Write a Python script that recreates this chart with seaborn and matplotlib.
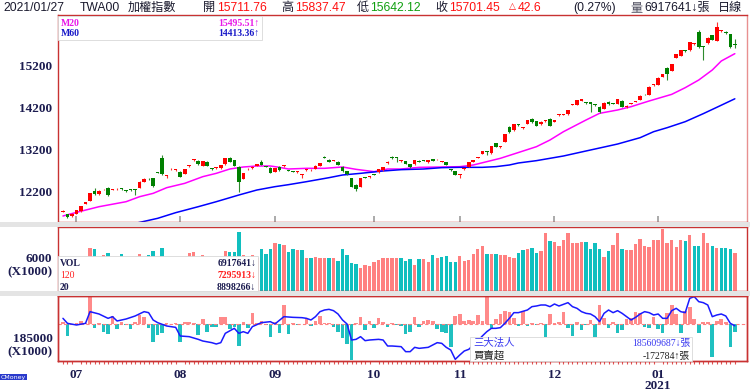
import numpy as np
import pandas as pd
import matplotlib
matplotlib.use("Agg")
import matplotlib.pyplot as plt
import matplotlib.transforms as mtrans
from matplotlib.patches import Rectangle
import seaborn as sns

# ---- daily candles, 2020/06/24 .. 2021/01/27 (150 trading days) ----
opens = [11700, 11650, 11600, 11650, 11720, 11890, 11970, 12210, 12120, 12240,
         12280, 12230, 12240, 12255, 12215, 12230, 12230, 12280, 12430, 12500,
         12505, 12655, 12985, 12555, 12720, 12700, 12665, 12610, 12790, 12940,
         12920, 12810, 12905, 12735, 12755, 12745, 12840, 13000, 12940, 12785,
         12490, 12720, 12745, 12800, 12905, 12790, 12765, 12665, 12785, 12800,
         12695, 12670, 12660, 12595, 12700, 12695, 12730, 12810, 13015, 12955,
         12925, 12905, 12785, 12680, 12505, 12345, 12305, 12525, 12540, 12605,
         12650, 12700, 12870, 13005, 13000, 12915, 12920, 12840, 12840, 12930,
         12930, 12890, 12970, 12960, 12900, 12890, 12710, 12680, 12595, 12725,
         12785, 12900, 12995, 13095, 13150, 13105, 13355, 13260, 13385, 13745,
         13655, 13790, 13720, 13820, 13930, 13880, 13800, 13875, 13930, 13865,
         14020, 14035, 14045, 14275, 14265, 14370, 14310, 14330, 14270, 14225,
         14170, 14345, 14300, 14295, 14370, 14210, 14290, 14340, 14385, 14525,
         14505, 14740, 14745, 14945, 15160, 15080, 15400, 15450, 15565, 15575,
         15725, 16010, 15670, 15745, 15945, 15800, 16035, 16025, 15960, 15711.76]
highs = [11740, 11660, 11665, 11755, 11850, 11940, 12150, 12265, 12215, 12260,
         12290, 12260, 12270, 12275, 12230, 12240, 12245, 12435, 12505, 12515,
         12515, 12665, 13065, 12580, 12760, 12730, 12680, 12740, 12835, 12980,
         12935, 12930, 12920, 12750, 12780, 12835, 12995, 13010, 12950, 12800,
         12645, 12745, 12795, 12850, 12935, 12805, 12775, 12755, 12795, 12820,
         12710, 12690, 12690, 12605, 12725, 12720, 12820, 12885, 13035, 12965,
         12950, 12920, 12795, 12690, 12515, 12360, 12515, 12540, 12560, 12615,
         12730, 12785, 12915, 13030, 13025, 12940, 12930, 12850, 12945, 12940,
         12945, 12955, 12980, 12975, 12925, 12900, 12725, 12690, 12605, 12750,
         12900, 12950, 13020, 13170, 13165, 13290, 13365, 13285, 13570, 13755,
         13810, 13810, 13745, 13910, 13945, 13890, 13875, 13895, 13945, 13915,
         14050, 14060, 14155, 14300, 14395, 14420, 14325, 14340, 14285, 14235,
         14330, 14355, 14315, 14410, 14380, 14260, 14315, 14360, 14500, 14540,
         14715, 14765, 14930, 15010, 15170, 15250, 15490, 15585, 15580, 15780,
         15745, 16060, 15690, 15890, 15955, 16250, 16060, 16035, 15975, 15837.47]
lows = [11690, 11560, 11590, 11640, 11710, 11880, 11960, 12100, 12110, 12225,
        12080, 12215, 12225, 12230, 12190, 12205, 12105, 12270, 12420, 12465,
        12310, 12630, 12580, 12520, 12700, 12690, 12530, 12600, 12780, 12920,
        12830, 12800, 12800, 12710, 12740, 12735, 12830, 12890, 12800, 12185,
        12480, 12705, 12735, 12790, 12815, 12770, 12625, 12655, 12690, 12785,
        12675, 12650, 12645, 12505, 12690, 12680, 12720, 12800, 12995, 12895,
        12910, 12815, 12670, 12590, 12295, 12210, 12295, 12505, 12525, 12585,
        12640, 12690, 12860, 12980, 12905, 12900, 12845, 12765, 12830, 12895,
        12910, 12880, 12920, 12945, 12890, 12815, 12690, 12575, 12520, 12715,
        12775, 12890, 12985, 13085, 13065, 13095, 13250, 13245, 13375, 13600,
        13645, 13770, 13700, 13810, 13840, 13760, 13790, 13865, 13750, 13855,
        14005, 14015, 14035, 14260, 14255, 14360, 14290, 14105, 14250, 14080,
        14160, 14270, 14280, 14285, 14205, 14200, 14280, 14325, 14375, 14505,
        14495, 14725, 14735, 14935, 14865, 15070, 15390, 15440, 15545, 15565,
        15710, 15640, 15345, 15735, 15815, 15790, 16020, 15975, 15640, 15642.12]
closes = [11710, 11577, 11650, 11745, 11840, 11930, 12145, 12120, 12200, 12245,
          12105, 12240, 12250, 12245, 12205, 12220, 12220, 12425, 12495, 12480,
          12330, 12645, 12600, 12565, 12735, 12710, 12545, 12730, 12825, 12950,
          12840, 12920, 12810, 12725, 12765, 12825, 12985, 12905, 12810, 12410,
          12635, 12730, 12785, 12840, 12825, 12785, 12635, 12745, 12700, 12805,
          12690, 12665, 12670, 12600, 12710, 12705, 12810, 12875, 13005, 12905,
          12935, 12825, 12680, 12600, 12305, 12250, 12505, 12520, 12545, 12595,
          12720, 12775, 12905, 12995, 12995, 12925, 12855, 12775, 12935, 12905,
          12925, 12945, 12930, 12965, 12910, 12825, 12700, 12585, 12600, 12735,
          12890, 12940, 13005, 13160, 13140, 13280, 13260, 13270, 13560, 13610,
          13800, 13780, 13730, 13900, 13850, 13770, 13865, 13880, 13760, 13905,
          14030, 14045, 14145, 14285, 14385, 14410, 14305, 14280, 14265, 14090,
          14320, 14280, 14295, 14400, 14215, 14250, 14300, 14345, 14490, 14520,
          14705, 14745, 14920, 15000, 15000, 15240, 15480, 15575, 15560, 15770,
          15730, 15650, 15665, 15880, 15825, 16145, 16045, 15985, 15659, 15701.45]

# moving averages (day index, value)
ma20_idx = [0, 3, 8, 14, 17, 20, 23, 27, 31, 34, 37, 40, 43, 46, 48, 50, 54, 58, 62, 65, 69,
            72, 75, 79, 84, 88, 91, 94, 97, 101, 105, 108, 111, 116, 119, 123, 126, 130, 135,
            138, 141, 144, 146, 149]
ma20_val = [11603, 11690, 11826, 11946, 12066, 12146, 12282, 12386, 12546, 12626, 12730,
            12778, 12802, 12802, 12770, 12730, 12746, 12746, 12778, 12722, 12666, 12730,
            12730, 12770, 12778, 12786, 12826, 12906, 12986, 13125, 13265, 13425, 13625,
            13905, 14065, 14145, 14225, 14361, 14520, 14680, 14864, 15104, 15320, 15495.51]
ma60_idx = [12, 17, 21, 25, 30, 34, 39, 43, 47, 50, 54, 59, 62, 66, 71, 75, 80, 84, 88, 93,
            96, 99, 101, 105, 111, 116, 120, 123, 128, 131, 134, 138, 142, 145, 149]
ma60_val = [11325, 11450, 11547, 11683, 11826, 11946, 12106, 12226, 12306, 12354, 12426,
            12522, 12586, 12626, 12682, 12714, 12730, 12762, 12770, 12770, 12786, 12826,
            12874, 12930, 13042, 13162, 13257, 13329, 13481, 13625, 13721, 13865, 14057,
            14209, 14413.36]

# volume (x1000 張)
volume = [5200, 5400, 4800, 5100, 5600, 5900, 7854, 7616, 6000, 6545,
          6962, 5800, 5500, 6724, 5300, 5200, 5700, 6724, 6100, 6545,
          7319, 6000, 7735, 6100, 5600, 5200, 5700, 5800, 6902, 7140,
          6000, 6545, 5900, 5400, 5300, 5800, 7319, 7021, 7140, 10710,
          6545, 5800, 6545, 5900, 7557, 6664, 7557, 8747, 8509, 8330,
          7021, 7557, 7497, 7497, 5950, 5950, 6248, 5950, 5950, 5950,
          5950, 5474, 7616, 6545, 4998, 4939, 4165, 4760, 4582, 5236,
          5653, 5950, 5950, 6069, 6069, 6069, 5474, 5831, 4701, 5712,
          5712, 5236, 6545, 6069, 6129, 6426, 5236, 5236, 6426, 5474,
          5653, 6724, 7616, 8092, 6724, 6664, 6664, 6545, 6545, 6188,
          6069, 6902, 7438, 7616, 7735, 6843, 7259, 10472, 9104, 8806,
          8211, 9223, 10472, 8628, 8628, 8806, 8806, 7616, 8628, 7616,
          6129, 7259, 8390, 10591, 7616, 7438, 7438, 8449, 9342, 8211,
          8033, 9223, 9163, 11305, 8628, 9223, 8033, 9223, 9044, 10234,
          8211, 8211, 10532, 8628, 8152, 7854, 7735, 7735, 7700, 6917.641]

# 三大法人 daily net buy/sell (x1000 張)
inst_net = [40, -252, -10, 20, 65, 30, 576, -94, 20, -166,
            -216, 173, -115, 50, -20, -115, 36, 194, 144, -94,
            -396, -238, -187, 15, 10, 20, -396, 36, 50, 15,
            -238, 101, -180, -72, -58, 144, 158, -115, -72, -468,
            36, -94, 245, 15, 72, -30, -274, 36, -187, 410,
            -216, 15, -20, 10, 100, -43, 60, 173, 30, 20,
            -72, -166, -310, -432, -778, 20, 144, -130, 72, -94,
            137, 36, -58, 15, -30, -40, -223, -166, 158, -72,
            65, 86, 72, -115, -166, -202, -490, 173, 216, 72,
            86, 72, 194, 72, 590, -94, 100, 216, 281, 266,
            122, -43, 281, -36, 20, -20, 30, -274, 216, 20,
            40, 266, -94, -259, 50, -130, -20, 86, -274, 410,
            122, -94, 50, -202, -130, 100, 122, 266, 230, -72,
            -94, 158, -115, -202, 230, 410, 216, -202, 288, 374,
            100, -202, 50, 50, -706, 72, 100, 40, -504, -172.784]

# 三大法人 cumulative line (day index, x1000 張)
cum_idx = [0, 1, 3, 5, 6, 8, 10, 11, 12, 14, 16, 18, 19, 20, 21, 23, 25, 26, 28, 30, 31,
           33, 34, 35, 36, 38, 39, 40, 41, 42, 44, 46, 47, 49, 51, 53, 54, 55, 56, 57, 58,
           59, 60, 61, 62, 63, 64, 65, 66, 67, 68, 70, 71, 72, 73, 75, 76, 77, 78, 79, 81,
           82, 83, 84, 85, 86, 87, 88, 89, 90, 91, 92, 93, 94, 95, 96, 97, 98, 99, 100, 101,
           103, 104, 105, 106, 107, 108, 109, 110, 112, 113, 114, 115, 116, 117, 118, 119,
           120, 121, 122, 123, 124, 125, 126, 127, 128, 129, 130, 131, 132, 133, 134, 135,
           136, 137, 138, 139, 140, 141, 142, 143, 144, 145, 146, 147, 148, 149]
cum_val = [185983, 185733, 185650, 185733, 186317, 186200, 185983, 186067, 185850, 185950,
           186100, 186317, 186267, 185900, 185767, 185600, 185533, 185100, 185067, 184933,
           184850, 184767, 184700, 184767, 185233, 185483, 185233, 185317, 185233, 185567,
           185767, 185817, 185700, 186067, 186033, 186017, 185983, 185900, 186067, 186317,
           186400, 186433, 186367, 186200, 185900, 185700, 184900, 184933, 185067, 184867,
           184900, 184933, 184900, 184600, 184600, 184567, 184317, 184317, 184533, 184483,
           184533, 184650, 184767, 184733, 184533, 184400, 183933, 184150, 184350, 184433,
           184650, 184850, 185100, 185317, 185483, 185483, 185517, 185733, 185983, 186267,
           186267, 186400, 186567, 186600, 186650, 186650, 186567, 186700, 186600, 186767,
           186567, 186483, 186317, 186233, 186200, 186067, 185817, 186233, 186400, 186267,
           186367, 186233, 186067, 185900, 186033, 186200, 186317, 186267, 186150, 186200,
           185983, 185983, 186367, 186483, 186317, 186267, 186983, 187067, 186817, 186767,
           186650, 186067, 186150, 186200, 186100, 185733, 185609.687]

month_pos = [3, 26, 47, 69, 88, 109, 132]
month_lab = ['07', '08', '09', '10', '11', '12', '01']
price_ticks = [12200, 13200, 14200, 15200]

# ---------------------------------------------------------------------
sns.set_theme(style="white")
plt.rcParams['font.family'] = ['Noto Sans CJK TC', 'DejaVu Sans']
SERIF = ['Liberation Serif', 'Noto Sans CJK TC', 'DejaVu Serif']

W, H = 750, 391
fig = plt.figure(figsize=(7.5, 3.91), dpi=100)
fig.patch.set_facecolor('white')


def fx(x):
    return x / W


def fy(y):
    return 1 - y / H


L, R = 58, 747
ax1 = fig.add_axes([fx(L), fy(222), (R - L) / W, (222 - 15) / H])
ax2 = fig.add_axes([fx(L), fy(291), (R - L) / W, (291 - 227) / H])
ax3 = fig.add_axes([fx(L), fy(361), (R - L) / W, (361 - 296) / H])

# grey separator bands
for y0, y1 in [(222, 227), (291, 296)]:
    fig.patches.append(Rectangle((fx(0), fy(y1)), 1, (y1 - y0) / H, transform=fig.transFigure,
                                 facecolor='#E4E4E4', edgecolor='none', zorder=0))

df = pd.DataFrame({'o': opens, 'h': highs, 'l': lows, 'c': closes})
df['i'] = np.arange(len(df))
df['up'] = df['c'] >= df['o']
df['vol'] = volume
df['vup'] = df['c'] >= df['c'].shift(1).fillna(df['o'])
df['net'] = inst_net

UP, DN = '#FF0000', '#008000'
NAVY = '#1C1C50'
BORDER = '#C83232'
XMIN, XMAX = -1.1, 151.7

# ---- main price panel ----
ax1.vlines(df['i'], df['l'], df['h'], colors=np.where(df['up'], '#FF3030', '#2E8B2E'), lw=0.8, zorder=2)
body = (df['c'] - df['o']).abs().clip(lower=20)
ax1.bar(df['i'], body, bottom=df[['o', 'c']].min(axis=1), width=0.8,
        color=np.where(df['up'], UP, DN), lw=0, zorder=3)
sns.lineplot(x=ma20_idx, y=ma20_val, ax=ax1, color='#FF00FF', lw=1.1, estimator=None, sort=False, zorder=1)
sns.lineplot(x=ma60_idx, y=ma60_val, ax=ax1, color='#0000FF', lw=1.1, estimator=None, sort=False, zorder=1)
ax1.set_xlim(XMIN, XMAX)
ax1.set_ylim(11459, 16423)
ax1.set_yticks(price_ticks, [str(t) for t in price_ticks], fontfamily=SERIF,
               fontweight='bold', fontsize=9.5, color=NAVY)
ax1.set_xticks(month_pos)
ax1.tick_params(axis='x', direction='in', length=4, color='#A0A0A0', bottom=True, labelbottom=False)
ax1.tick_params(axis='y', length=0, pad=4)
ax1.set_xlabel('')
ax1.set_ylabel('')

# ---- volume panel ----
ax2.bar(df['i'], df['vol'], width=0.75, color=np.where(df['vup'], '#FF8080', '#10BFBF'), lw=0)
ax2.set_xlim(XMIN, XMAX)
ax2.set_ylim(0, 11600)
ax2.set_xticks([])
ax2.set_yticks([6000], ['6000'], fontfamily=SERIF, fontweight='bold', fontsize=9.5, color=NAVY)
ax2.tick_params(axis='y', length=0, pad=4)

# ---- institutional panel ----
ax3.bar(df['i'], df['net'], width=0.8, color=np.where(df['net'] >= 0, '#FF8A8A', '#20C0C0'), lw=0)
ax3.axhline(0, color='#FF8080', lw=0.8, ls=(0, (3, 2)))
ax3.set_xlim(XMIN, XMAX)
ax3.set_ylim(-799, 605)
ax3.set_yticks([])
ax3.set_xticks(month_pos, month_lab, fontfamily=SERIF, fontweight='bold', fontsize=9.5, color=NAVY)
ax3.set_xticks(np.arange(len(df)), minor=True)
ax3.tick_params(axis='x', which='major', length=0, pad=6)
ax3.tick_params(axis='x', which='minor', bottom=True, direction='out', length=2.5, width=0.8, color='#E05050')
ax3.text(132, -0.385, '2021', transform=mtrans.blended_transform_factory(ax3.transData, ax3.transAxes),
         ha='center', va='center', fontfamily=SERIF, fontweight='bold', fontsize=9.5, color=NAVY)

ax3b = ax3.twinx()
sns.lineplot(x=cum_idx, y=cum_val, ax=ax3b, color='#1A1AFF', lw=1.1, estimator=None, sort=False)
ax3b.set_ylim(183850, 187100)
ax3b.set_xlim(XMIN, XMAX)
ax3b.yaxis.tick_left()
ax3b.set_yticks([185000], ['185000'], fontfamily=SERIF, fontweight='bold', fontsize=9.5, color=NAVY)
ax3b.tick_params(axis='y', length=0, pad=4, left=True, right=False, labelleft=True, labelright=False)
ax3b.set_ylabel('')

for a in (ax1, ax2, ax3, ax3b):
    for s in a.spines.values():
        s.set_color(BORDER)
        s.set_linewidth(1.0)
ax1.spines['right'].set_color('#E89090')

# ---- left unit labels ----
for y in (272, 352):
    fig.text(fx(53), fy(y), '(X1000)', ha='right', va='center', fontfamily=SERIF,
             fontweight='bold', fontsize=9.5, color=NAVY)


def box(x0, y0, x1, y1):
    fig.patches.append(Rectangle((fx(x0), fy(y1)), (x1 - x0) / W, (y1 - y0) / H,
                                 transform=fig.transFigure, facecolor='white',
                                 edgecolor='#D8D8D8', lw=0.6, zorder=20))


def ftxt(x, y, s, color, ha='left', size=7, family=SERIF, weight='bold'):
    fig.text(fx(x), fy(y), s, ha=ha, va='center', color=color, fontsize=size,
             fontfamily=family, fontweight=weight, zorder=21)


# legend box of the price panel
box(58, 16, 262, 40)
ftxt(61, 23, 'M20', '#E818E8')
ftxt(259, 23, '15495.51↑', '#E818E8', ha='right')
ftxt(61, 33, 'M60', '#1818C8')
ftxt(259, 33, '14413.36↑', '#1818C8', ha='right')

# legend box of the volume panel
box(58, 256, 258, 291)
ftxt(60, 263, 'VOL', NAVY)
ftxt(256, 263, '6917641↓', NAVY, ha='right')
ftxt(60, 275, '120', '#FF2020', weight='normal')
ftxt(256, 275, '7295913↓', '#FF2020', ha='right')
ftxt(60, 287, '20', NAVY)
ftxt(256, 287, '8898266↓', NAVY, ha='right')

# legend box of the institutional panel
box(470, 337, 692, 361)
ftxt(473, 343, '三大法人', '#3838F0', size=7.5, family=['Noto Sans CJK TC'], weight='normal')
ftxt(690, 343, '185609687↓張', '#3838F0', ha='right', weight='normal')
ftxt(473, 356, '買賣超', '#202020', size=7.5, family=['Noto Sans CJK TC'], weight='normal')
ftxt(690, 356, '-172784↑張', '#202020', ha='right', weight='normal')

# ---- header ----
HDR = ['Liberation Sans', 'Noto Sans CJK TC', 'DejaVu Sans']
hdr = [(3, '2021/01/27', '#1A1A2E'), (80, 'TWA00', '#1A1A2E'), (128, '加權指數', '#1A1A2E'),
       (203, '開', '#1A1A2E'), (217, '15711.76', '#FF1010'),
       (281, '高', '#1A1A2E'), (295, '15837.47', '#FF1010'),
       (357, '低', '#1A1A2E'), (370, '15642.12', '#10A010'),
       (435, '收', '#1A1A2E'), (449, '15701.45', '#FF1010'),
       (518, '42.6', '#FF1010'), (573, '(0.27%)', '#1A1A2E'),
       (630, '量', '#505060'), (644, '6917641↓張', '#1A1A2E'), (718, '日線', '#1A1A2E')]
for x, s, c in hdr:
    fig.text(fx(x), fy(8), s, ha='left', va='center', color=c, fontsize=8.7, fontfamily=HDR)
fig.text(fx(509), fy(7), '△', ha='left', va='center', color='#FF1010', fontsize=6.5,
         fontfamily=['DejaVu Sans'])

fig.text(fx(1), fy(377), 'CMoney', ha='left', va='center', color='white', fontsize=4.5,
         fontfamily=['DejaVu Sans'], bbox=dict(facecolor='#2A3ACC', edgecolor='none', pad=0.6))

fig.savefig('out.png', dpi=100, facecolor='white')
